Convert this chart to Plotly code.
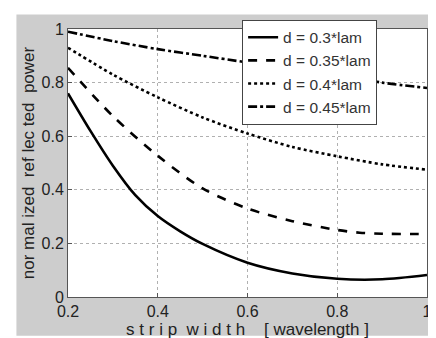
import plotly.graph_objects as go

x_03 = [0.2, 0.25, 0.3, 0.35, 0.4, 0.45, 0.5, 0.6, 0.7, 0.8, 0.9, 1.0]
y_03 = [0.76, 0.62, 0.49, 0.38, 0.302, 0.245, 0.198, 0.128, 0.088, 0.068, 0.066, 0.082]

x_035 = [0.2, 0.3, 0.4, 0.5, 0.6, 0.7, 0.8, 0.85, 0.9, 1.0]
y_035 = [0.855, 0.675, 0.527, 0.405, 0.33, 0.283, 0.25, 0.24, 0.236, 0.235]

x_04 = [0.2, 0.3, 0.4, 0.5, 0.6, 0.7, 0.8, 0.9, 1.0]
y_04 = [0.93, 0.83, 0.745, 0.67, 0.61, 0.56, 0.525, 0.495, 0.475]

x_045 = [0.2, 0.3, 0.4, 0.5, 0.6, 0.7, 0.8, 0.9, 1.0]
y_045 = [0.99, 0.955, 0.925, 0.90, 0.875, 0.85, 0.83, 0.80, 0.78]

names = ["d = 0.3*lam", "d = 0.35*lam", "d = 0.4*lam", "d = 0.45*lam"]
dashes = ["solid", "dash", "dot", "dashdot"]
xticks = [0.2, 0.4, 0.6, 0.8, 1.0]
xticklabels = ["0.2", "0.4", "0.6", "0.8", "1"]
yticks = [0, 0.2, 0.4, 0.6, 0.8, 1.0]
yticklabels = ["0", "0.2", "0.4", "0.6", "0.8", "1"]

fig = go.Figure()
for xs, ys, nm, ds in zip([x_03, x_035, x_04, x_045], [y_03, y_035, y_04, y_045], names, dashes):
    fig.add_trace(go.Scatter(x=xs, y=ys, name=nm, mode="lines",
                             line=dict(color="black", width=2.6, dash=ds, shape="spline", smoothing=0.8)))

grey = "#cdcdcd"
fig.update_layout(
    width=436, height=338,
    margin=dict(l=60, r=14, t=19, b=43),
    paper_bgcolor=grey, plot_bgcolor="white",
    font=dict(family="Liberation Sans, Arial, sans-serif", size=16, color="#222"),
    showlegend=True,
    legend=dict(x=0.485, y=1.035, xanchor="left", yanchor="top", bgcolor="white",
                bordercolor="#444", borderwidth=1, font=dict(size=15.5, color="#333"),
                tracegroupgap=0, itemwidth=30),
    xaxis=dict(range=[0.2, 1.0], tickvals=xticks, ticktext=xticklabels,
               showgrid=True, gridcolor="#b0b0b0", griddash="dot", gridwidth=1,
               showline=True, linecolor="#555", linewidth=1, mirror=True,
               ticks="inside", ticklen=4, tickcolor="#555",
               zeroline=False, tickfont=dict(size=16),
               title=dict(text="s t r i p  w i d t h    [ wavelength ]", standoff=2,
                          font=dict(size=17, color="#222"))),
    yaxis=dict(range=[0, 1.0], tickvals=yticks, ticktext=yticklabels,
               showgrid=True, gridcolor="#b0b0b0", griddash="dot", gridwidth=1,
               showline=True, linecolor="#555", linewidth=1, mirror=True,
               ticks="inside", ticklen=4, tickcolor="#555",
               zeroline=False, tickfont=dict(size=16),
               title=dict(text="nor mal ized  ref lec ted  power", standoff=2,
                          font=dict(size=17, color="#222"))),
    shapes=[
        dict(type="rect", xref="paper", yref="paper", x0=-0.2, x1=-(60-8)/362, y0=-0.2, y1=1.2,
             fillcolor="white", line=dict(width=0), layer="below"),
        dict(type="rect", xref="paper", yref="paper", x0=1 + (429-422)/362, x1=1.2, y0=-0.2, y1=1.2,
             fillcolor="white", line=dict(width=0), layer="below"),
        dict(type="rect", xref="paper", yref="paper", x0=-0.2, x1=1.2, y0=1 + (19-4)/276, y1=1.2,
             fillcolor="white", line=dict(width=0), layer="below"),
        dict(type="rect", xref="paper", yref="paper", x0=-0.2, x1=1.2, y0=-0.2, y1=-(335-295)/276,
             fillcolor="white", line=dict(width=0), layer="below"),
    ],
)

fig.write_html("out.html")
